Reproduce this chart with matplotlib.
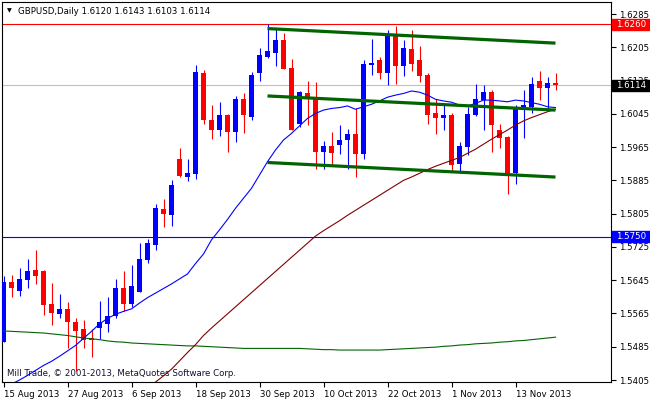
import matplotlib
matplotlib.use("Agg")
import matplotlib.pyplot as plt
from matplotlib.patches import Rectangle

# ---------------- data ----------------
opens = [1.5497, 1.5641, 1.5620, 1.5646, 1.5669, 1.5667, 1.5588, 1.5564, 1.5576, 1.5545,
         1.5528, 1.5505, 1.5531, 1.5540, 1.5558, 1.5627, 1.5588, 1.5617, 1.5694, 1.5730,
         1.5816, 1.5802, 1.5936, 1.5893, 1.5900, 1.6144, 1.6031, 1.6005, 1.6042, 1.6002,
         1.6081, 1.6038, 1.6142, 1.6182, 1.6192, 1.6222, 1.6155, 1.6021, 1.6096, 1.6084,
         1.5954, 1.5968, 1.5970, 1.5983, 1.5997, 1.5949, 1.6162, 1.6174, 1.6144, 1.6235,
         1.6160, 1.6201, 1.6174, 1.6138, 1.6047, 1.6036, 1.6042, 1.5925, 1.5966, 1.6042,
         1.6078, 1.6098, 1.6005, 1.5990, 1.5903, 1.6055, 1.6062, 1.6124, 1.6108, 1.6120]
highs = [1.5654, 1.5657, 1.5674, 1.5697, 1.5718, 1.5669, 1.5638, 1.5612, 1.5592, 1.5553,
         1.5549, 1.5528, 1.5595, 1.5605, 1.5648, 1.5667, 1.5682, 1.5735, 1.5744, 1.5828,
         1.5840, 1.5886, 1.5964, 1.5936, 1.6163, 1.6150, 1.6067, 1.6074, 1.6045, 1.6088,
         1.6096, 1.6146, 1.6203, 1.6260, 1.6251, 1.6240, 1.6177, 1.6101, 1.6124, 1.6122,
         1.5980, 1.6001, 1.6018, 1.6009, 1.6058, 1.6174, 1.6225, 1.6182, 1.6247, 1.6256,
         1.6222, 1.6247, 1.6208, 1.6142, 1.6081, 1.6067, 1.6047, 1.5978, 1.6061, 1.6117,
         1.6114, 1.6102, 1.6021, 1.5992, 1.6066, 1.6102, 1.6133, 1.6148, 1.6134, 1.6143]
lows = [1.5497, 1.5605, 1.5607, 1.5627, 1.5636, 1.5561, 1.5538, 1.5555, 1.5481, 1.5427,
        1.5481, 1.5461, 1.5503, 1.5521, 1.5555, 1.5571, 1.5580, 1.5617, 1.5686, 1.5718,
        1.5773, 1.5775, 1.5894, 1.5884, 1.5889, 1.6021, 1.5985, 1.5992, 1.5954, 1.5978,
        1.5998, 1.6029, 1.6124, 1.6180, 1.6161, 1.6152, 1.6005, 1.6014, 1.6019, 1.5913,
        1.5913, 1.5921, 1.5948, 1.5913, 1.5892, 1.5937, 1.6138, 1.6129, 1.6114, 1.6117,
        1.6136, 1.6148, 1.6122, 1.6021, 1.5997, 1.6005, 1.5908, 1.5902, 1.5947, 1.6040,
        1.6007, 1.5954, 1.5964, 1.5853, 1.5877, 1.5988, 1.6046, 1.6078, 1.6054, 1.6103]
closes = [1.5641, 1.5627, 1.5648, 1.5667, 1.5656, 1.5585, 1.5567, 1.5576, 1.5545, 1.5524,
          1.5501, 1.5501, 1.5545, 1.5560, 1.5627, 1.5588, 1.5631, 1.5696, 1.5735, 1.5819,
          1.5804, 1.5874, 1.5896, 1.5903, 1.6146, 1.6031, 1.6005, 1.6042, 1.6002, 1.6081,
          1.6041, 1.6138, 1.6186, 1.6196, 1.6222, 1.6154, 1.6007, 1.6098, 1.6081, 1.5954,
          1.5968, 1.5952, 1.5982, 1.5997, 1.5949, 1.6165, 1.6167, 1.6144, 1.6235, 1.6160,
          1.6203, 1.6166, 1.6137, 1.6043, 1.6036, 1.6042, 1.5923, 1.5968, 1.6045, 1.6081,
          1.6098, 1.6019, 1.5988, 1.5900, 1.6058, 1.6066, 1.6117, 1.6108, 1.6120, 1.6114]

# moving averages (start bar index, values)
ma_fast_start = 1
ma_fast = [1.5395, 1.5405, 1.5416, 1.5428, 1.5440, 1.5450, 1.5462, 1.5475, 1.5488, 1.5505,
           1.5522, 1.5540, 1.5553, 1.5563, 1.5570, 1.5576, 1.5590, 1.5603, 1.5614, 1.5625,
           1.5636, 1.5648, 1.5660, 1.5685, 1.5708, 1.5742, 1.5766, 1.5791, 1.5818, 1.5842,
           1.5866, 1.5898, 1.5930, 1.5958, 1.5982, 1.5998, 1.6016, 1.6034, 1.6046, 1.6054,
           1.6058, 1.6060, 1.6064, 1.6056, 1.6062, 1.6068, 1.6076, 1.6085, 1.6090, 1.6094,
           1.6100, 1.6097, 1.6090, 1.6080, 1.6076, 1.6073, 1.6066, 1.6064, 1.6070, 1.6078,
           1.6078, 1.6076, 1.6074, 1.6078, 1.6076, 1.6072, 1.6068, 1.6062, 1.6060]
ma_mid_start = 19
ma_mid = [1.5400, 1.5415, 1.5431, 1.5451, 1.5471, 1.5490, 1.5512, 1.5530, 1.5547, 1.5564,
          1.5581, 1.5598, 1.5615, 1.5632, 1.5649, 1.5666, 1.5683, 1.5700, 1.5717, 1.5734,
          1.5751, 1.5764, 1.5776, 1.5788, 1.5801, 1.5813, 1.5825, 1.5837, 1.5849, 1.5861,
          1.5873, 1.5885, 1.5893, 1.5902, 1.5911, 1.5919, 1.5926, 1.5933, 1.5940, 1.5950,
          1.5960, 1.5972, 1.5984, 1.5995, 1.6006, 1.6018, 1.6028, 1.6036, 1.6043, 1.6050,
          1.6056]
ma_slow_start = 0
ma_slow = [1.5523, 1.5522, 1.5521, 1.5520, 1.5519, 1.5518, 1.5516, 1.5514, 1.5512, 1.5509,
           1.5506, 1.5504, 1.5502, 1.5499, 1.5497, 1.5496, 1.5494, 1.5493, 1.5492, 1.5491,
           1.5490, 1.5489, 1.5488, 1.5487, 1.5487, 1.5486, 1.5485, 1.5484, 1.5483, 1.5482,
           1.5481, 1.5481, 1.5481, 1.5481, 1.5481, 1.5481, 1.5481, 1.5481, 1.5480, 1.5479,
           1.5478, 1.5478, 1.5477, 1.5477, 1.5477, 1.5477, 1.5477, 1.5477, 1.5478, 1.5479,
           1.5480, 1.5481, 1.5482, 1.5483, 1.5484, 1.5486, 1.5487, 1.5489, 1.5490, 1.5492,
           1.5493, 1.5494, 1.5496, 1.5497, 1.5499, 1.5500, 1.5502, 1.5504, 1.5506, 1.5508]

# channel trend lines: (bars, prices)
trend_bars = [33, 69]
trend_top = [1.6250, 1.6215]
trend_mid = [1.6088, 1.6054]
trend_bot = [1.5928, 1.5893]

level_red = 1.6260
level_blue = 1.5750
last_price = 1.6114

price_ticks = [1.6285, 1.6205, 1.6125, 1.6045, 1.5965, 1.5885, 1.5805, 1.5725,
               1.5645, 1.5565, 1.5485, 1.5405]
date_tick_bars = [0, 8, 16, 24, 32, 40, 48, 56, 64]
date_labels = ["15 Aug 2013", "27 Aug 2013", "6 Sep 2013", "18 Sep 2013", "30 Sep 2013",
               "10 Oct 2013", "22 Oct 2013", "1 Nov 2013", "13 Nov 2013"]

title = "GBPUSD,Daily 1.6120 1.6143 1.6103 1.6114"
copyright_txt = "Mill Trade, \u00a9 2001-2013, MetaQuotes Software Corp."

# ---------------- figure ----------------
W, H = 650, 400
L, R, T, B = 2, 611, 2, 382
FONT = "DejaVu Sans"
FS = 6.2
plt.rcParams["font.family"] = [FONT]

fig = plt.figure(figsize=(W / 100, H / 100), dpi=100)
fig.patch.set_facecolor("white")
ax = fig.add_axes([L / W, (H - B) / H, (R - L) / W, (B - T) / H])
ax.set_facecolor("white")

px_per_bar = 8.0
x0 = 3.5  # pixel centre of bar 0
ax.set_xlim((L - x0) / px_per_bar, (R - x0) / px_per_bar)
ax.set_ylim(1.54002, 1.63139)

for s in ax.spines.values():
    s.set_linewidth(0.8)
    s.set_color("black")

# horizontal levels
ax.axhline(last_price, color="#C0C0C0", lw=0.8, zorder=1)
ax.axhline(level_red, color="#FF0000", lw=0.8, zorder=1)
ax.axhline(level_blue, color="#0000FF", lw=0.8, zorder=1)

# candles
n = len(opens)
xs = list(range(n))
cols = ["#0000FF" if c >= o else "#FF0000" for o, c in zip(opens, closes)]
ax.vlines(xs, lows, highs, colors=cols, lw=0.8, zorder=3)
bottoms = [min(o, c) for o, c in zip(opens, closes)]
heights = [max(abs(c - o), 0.00028) for o, c in zip(opens, closes)]
ax.bar(xs, heights, bottom=bottoms, width=0.62, color=cols, linewidth=0, zorder=4)

# moving averages
ax.plot(range(ma_slow_start, ma_slow_start + len(ma_slow)), ma_slow, color="#006400", lw=0.8, zorder=5)
ax.plot(range(ma_mid_start, ma_mid_start + len(ma_mid)), ma_mid, color="#800000", lw=0.8, zorder=5)
ax.plot(range(ma_fast_start, ma_fast_start + len(ma_fast)), ma_fast, color="#0000FF", lw=0.8, zorder=5)

# channel lines
for tl in (trend_top, trend_mid, trend_bot):
    ax.plot(trend_bars, tl, color="#006400", lw=2.3, solid_capstyle="butt", zorder=6)

# axes ticks
ax.yaxis.tick_right()
ax.set_yticks(price_ticks)
ax.set_yticklabels([f"{p:.4f}" for p in price_ticks], fontsize=FS)
ax.tick_params(axis="y", direction="out", length=3.5, width=0.8, pad=2)
ax.set_xticks(date_tick_bars)
ax.set_xticklabels(date_labels, fontsize=FS)
for lab in ax.get_xticklabels():
    lab.set_horizontalalignment("left")
ax.tick_params(axis="x", direction="out", length=3.5, width=0.8, pad=2)

# price boxes on the right axis
def box(price, color):
    ypix = ax.transData.transform((0, price))[1]
    fig.patches.append(Rectangle((612 / W, (ypix - 5.5) / H), 38 / W, 11 / H,
                                 transform=fig.transFigure, facecolor=color,
                                 edgecolor=color, zorder=10))
    fig.text(616 / W, ypix / H, f"{price:.4f}", color="white", fontsize=FS,
             va="center", ha="left", zorder=11)

box(level_red, "#FF0000")
box(last_price, "#000000")
box(level_blue, "#0000FF")

# title & copyright
fig.text(7 / W, 1 - 11 / H, "\u25bc", fontsize=4.5, va="center", ha="left", color="black")
fig.text(18 / W, 1 - 11 / H, title, fontsize=FS, va="center", ha="left", color="black")
ax.text(5 / (R - L), (B - 374) / (B - T), copyright_txt, transform=ax.transAxes,
        fontsize=FS, va="center", ha="left", color="#101030", zorder=7)

fig.savefig("out.png", dpi=100, facecolor="white")
